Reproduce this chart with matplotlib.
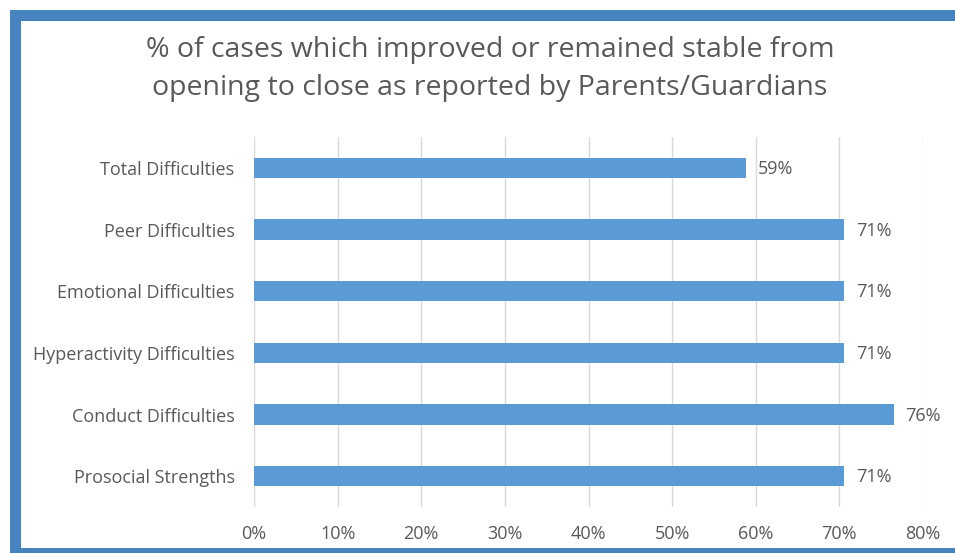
import matplotlib
matplotlib.use('Agg')
import matplotlib.pyplot as plt
from matplotlib.patches import Rectangle

categories = ['Total Difficulties', 'Peer Difficulties', 'Emotional Difficulties',
              'Hyperactivity Difficulties', 'Conduct Difficulties', 'Prosocial Strengths']
values = [58.8, 70.6, 70.6, 70.6, 76.5, 70.6]
value_labels = ['59%', '71%', '71%', '71%', '76%', '71%']
xticks = [0, 10, 20, 30, 40, 50, 60, 70, 80]
title = '% of cases which improved or remained stable from\nopening to close as reported by Parents/Guardians'

W, H = 955, 553
plt.rcParams['font.family'] = ['Open Sans', 'DejaVu Sans']
grey = '#595959'

fig = plt.figure(figsize=(W / 100, H / 100), dpi=100)
ax = fig.add_axes([254 / W, 1 - 507 / H, (923 - 254) / W, (507 - 137) / H])

ypos = list(range(len(categories)))
ax.barh(ypos, values, height=0.33, color='#5B9BD5', zorder=3)
for y, v, lab in zip(ypos, values, value_labels):
    ax.text(v + 1.4, y + 0.02, lab, va='center', ha='left', fontsize=13, color=grey)

ax.set_xlim(0, 80)
ax.set_ylim(len(categories) - 0.5, -0.5)
ax.set_yticks(ypos)
ax.set_yticklabels(categories)
ax.set_xticks(xticks)
ax.set_xticklabels(['{}%'.format(t) for t in xticks])
ax.tick_params(axis='both', length=0, labelsize=13, labelcolor=grey)
ax.tick_params(axis='y', pad=14)
ax.tick_params(axis='x', pad=13)
ax.grid(axis='x', color='#D9D9D9', linewidth=1, zorder=0)
for s in ax.spines.values():
    s.set_visible(False)

fig.text(490 / W, 1 - 69 / H, title, ha='center', va='center', fontsize=20.5,
         color=grey, linespacing=1.45)

# blue frame (cut off at right and bottom)
frame = '#4784BF'
def px_rect(x0, y0, x1, y1):
    fig.add_artist(Rectangle((x0 / W, 1 - y1 / H), (x1 - x0) / W, (y1 - y0) / H,
                             transform=fig.transFigure, color=frame, lw=0))
px_rect(10, 10, W, 21)
px_rect(10, 10, 21, H)
px_rect(10, 548, W, H)

fig.savefig('out.png', dpi=100)
